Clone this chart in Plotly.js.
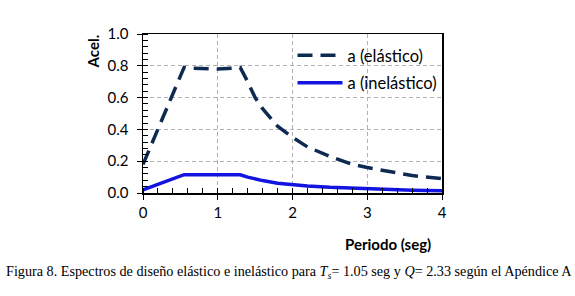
<!DOCTYPE html>
<html><head><meta charset="utf-8">
<script src="https://cdn.plot.ly/plotly-3.0.1.min.js"></script>
<style>body{margin:0;background:#fff}#chart{width:575px;height:296px}</style>
</head><body><div id="chart"></div>
<script>
const periodo = [0, 0.55, 0.6, 0.8, 1.0, 1.2, 1.3, 1.4, 1.5, 1.6, 1.8, 2.0, 2.2, 2.5, 2.8, 3.0, 3.3, 3.6, 4.0];
const aElastico = [0.18, 0.79, 0.785, 0.78, 0.78, 0.785, 0.79, 0.70, 0.60, 0.53, 0.42, 0.35, 0.29, 0.23, 0.18, 0.16, 0.135, 0.11, 0.09];
const aInelastico = [0.02, 0.115, 0.115, 0.115, 0.115, 0.115, 0.115, 0.10, 0.088, 0.078, 0.062, 0.052, 0.044, 0.036, 0.030, 0.027, 0.022, 0.018, 0.014];
const seriesNames = ['a (elástico)', 'a (inelástico)'];
const xTicks = [0, 1, 2, 3, 4];
const yTicks = [0, 0.2, 0.4, 0.6, 0.8, 1.0];
const yTickText = ['0.0', '0.2', '0.4', '0.6', '0.8', '1.0'];

const tickFont = {family: 'Lato, "Open Sans", sans-serif', size: 15, color: '#000'};

const data = [
  {x: periodo, y: aElastico, name: seriesNames[0], mode: 'lines', legendgroup: 'e',
   line: {color: '#0F2A52', width: 3.5, dash: '15px,8px'}},
  {x: periodo, y: aInelastico, name: seriesNames[1], mode: 'lines', legendgroup: 'i',
   line: {color: '#1414E0', width: 3.5}}
];

const layout = {
  width: 575, height: 296,
  margin: {l: 143, r: 133, t: 34, b: 103},
  paper_bgcolor: '#fff', plot_bgcolor: '#fff',
  showlegend: true,
  legend: {x: 0.5, y: 0.975, xanchor: 'left', yanchor: 'top', bgcolor: 'rgba(255,255,255,0)',
           font: {family: 'Lato, "Open Sans", sans-serif', size: 16.5, color: '#000'},
           tracegroupgap: 3, itemwidth: 45},
  xaxis: {range: [0, 4], tickvals: xTicks, ticktext: xTicks.map(String), tickfont: tickFont,
          showgrid: true, gridcolor: '#b0b0b0', griddash: '4px,3px', gridwidth: 1,
          zeroline: false, showline: true, linecolor: '#000', linewidth: 1.5, mirror: true,
          ticks: 'outside', ticklen: 5, tickcolor: '#000',
          minor: {dtick: 0.2, ticks: 'inside', ticklen: 5, tickcolor: '#000', showgrid: false}},
  yaxis: {range: [0, 1.0], tickvals: yTicks, ticktext: yTickText, tickfont: tickFont,
          ticklabelstandoff: 5,
          showgrid: true, gridcolor: '#b0b0b0', griddash: '4px,3px', gridwidth: 1,
          zeroline: false, showline: true, linecolor: '#000', linewidth: 1.5, mirror: true,
          ticks: 'outside', ticklen: 5, tickcolor: '#000',
          minor: {dtick: 0.04, ticks: 'inside', ticklen: 5, tickcolor: '#000', showgrid: false}},
  annotations: [
    {text: '<b>Acel.</b>', textangle: -90, xref: 'paper', yref: 'paper', x: 0, y: 1.01,
     xshift: -50, xanchor: 'center', yanchor: 'top', showarrow: false,
     font: {family: 'Lato, "Open Sans", sans-serif', size: 15, color: '#000'}},
    {text: '<b>Periodo (seg)</b>', xref: 'paper', yref: 'paper', x: 0.97, y: 0, yshift: -40,
     xanchor: 'right', yanchor: 'top', showarrow: false,
     font: {family: 'Lato, "Open Sans", sans-serif', size: 15, color: '#000'}},
    {text: 'Figura 8. Espectros de diseño elástico e inelástico para <i>T</i><sub><i>s</i></sub>= 1.05 seg y <i>Q</i>= 2.33 según el Apéndice A',
     xref: 'paper', yref: 'paper', x: 0, y: 0, xshift: -139, yshift: -68, xanchor: 'left', yanchor: 'top',
     showarrow: false, font: {family: '"Liberation Serif", "Times New Roman", serif', size: 14.2, color: '#000'}}
  ]
};

Plotly.newPlot('chart', data, layout, {staticPlot: true, displayModeBar: false});
</script></body></html>
